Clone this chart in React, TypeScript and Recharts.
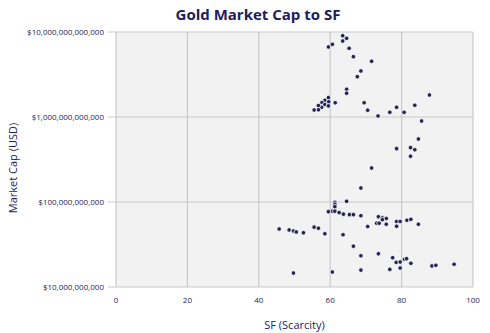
import { ScatterChart, Scatter, XAxis, YAxis, CartesianGrid } from 'recharts';

// SF (scarcity) readings, paired index-by-index with market caps below
const sfValues = [
  63.5, 64.6, 63.5, 60.6, 59.5, 65.3, 66.5, 71.6, 68.6, 67.6,
  64.6, 64.6, 59.5, 58.5, 59.6, 57.7, 61.4, 69.5, 58.5, 59.5,
  57.6, 56.7, 56.7, 55.5, 70.5, 78.6, 83.7, 73.4, 76.7, 80.7,
  87.8, 85.6, 84.7, 78.6, 82.5, 83.7, 82.5, 71.6, 68.6, 64.6,
  61.3, 61.3, 61.3, 60.6, 61.3, 59.5, 62.5, 63.7, 65.4, 66.5,
  68.6, 73.5, 74.6, 75.7, 74.6, 78.6, 79.6, 81.5, 82.6, 84.7,
  70.5, 73.0, 73.7, 75.7, 78.6, 55.5, 56.7, 45.7, 48.5, 49.7,
  50.5, 52.5, 58.5, 63.6, 66.5, 68.6, 73.5, 77.5, 78.5, 79.6,
  80.8, 81.4, 79.6, 82.6, 88.5, 89.6, 94.7, 60.6, 68.6, 76.7,
  49.7,
];

// market cap in billions of USD
const capBillions = [
  9040, 8430, 7830, 7160, 6670, 6430, 5120, 4520, 3480, 2980,
  2120, 1905, 1690, 1570, 1510, 1480, 1470, 1470, 1400, 1350,
  1300, 1365, 1216, 1210, 1203, 1300, 1375, 1028, 1135, 1135,
  1815, 897, 551, 424, 436, 412, 346, 251, 146, 102,
  99, 94, 88, 78, 78, 77, 75, 72, 71, 71,
  69, 67, 65, 64, 62, 59, 59, 61, 62.5, 54.7,
  51.5, 56.3, 56.3, 54.8, 51.8, 50.6, 49.2, 48.1, 46.9, 45.6,
  44.4, 43.4, 42.3, 41.2, 30.2, 23.3, 24.6, 22.1, 19.5, 19.7,
  21.2, 21.5, 16.7, 19, 17.7, 18, 18.5, 15, 15.8, 16.1,
  14.6,
];

const xTicks = [0, 20, 40, 60, 80, 100];
const yTicks = [1e10, 1e11, 1e12, 1e13];

const points = sfValues.map((sf, i) => ({ sf, cap: capBillions[i] * 1e9 }));

const NAVY = '#1d1d5c';
const FONT = '"Open Sans", "Noto Sans", sans-serif';

const Dot = (props: any) => (
  <circle cx={props.cx} cy={props.cy} r={2.3} fill="#262452" stroke="#ffffff" strokeWidth={0.8} />
);

const YLabel = () => (
  <text
    x={12}
    y={168}
    transform="rotate(-90 12 168)"
    textAnchor="middle"
    dominantBaseline="central"
    fill={NAVY}
    fontSize={11}
    fontFamily={FONT}
  >
    Market Cap (USD)
  </text>
);

export default function App() {
  return (
    <div style={{ position: 'absolute', left: 0, top: 0, width: 490, height: 333, background: '#fff', fontFamily: FONT }}>
      <div
        style={{
          position: 'absolute',
          top: 4,
          left: 26,
          width: 464,
          textAlign: 'center',
          fontSize: 15,
          fontWeight: 700,
          color: NAVY,
          fontFamily: FONT,
        }}
      >
        Gold Market Cap to SF
      </div>
      <ScatterChart width={490} height={333} margin={{ top: 32, right: 17, bottom: 0, left: 0 }}>
        <CartesianGrid fill="#f2f2f2" stroke="#c9c9c9" strokeWidth={1.2} />
        <XAxis
          type="number"
          dataKey="sf"
          domain={[0, 100]}
          ticks={xTicks}
          axisLine={false}
          tickLine={false}
          tickSize={0}
          tickMargin={10}
          height={46}
          tick={{ fontSize: 8, fill: NAVY, fontFamily: FONT }}
          label={{ value: 'SF (Scarcity)', position: 'insideBottom', offset: 4, fontSize: 11, fill: NAVY, fontFamily: FONT }}
        />
        <YAxis
          type="number"
          dataKey="cap"
          scale="log"
          domain={[1e10, 1e13]}
          ticks={yTicks}
          allowDataOverflow
          width={116}
          axisLine={false}
          tickLine={{ stroke: '#c9c9c9' }}
          tickSize={8}
          tickMargin={4}
          tick={{ fontSize: 8, fill: NAVY, fontFamily: FONT }}
          tickFormatter={(v: number) => '$' + v.toLocaleString('en-US')}
          label={<YLabel />}
        />
        <Scatter data={points} shape={<Dot />} isAnimationActive={false} />
      </ScatterChart>
    </div>
  );
}
